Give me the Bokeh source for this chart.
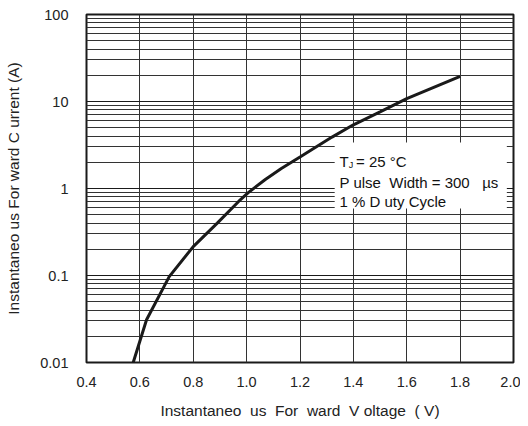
from bokeh.plotting import figure
from bokeh.models import FixedTicker, BoxAnnotation, Label, NumeralTickFormatter
from bokeh.embed import file_html
from bokeh.resources import INLINE

# Data
voltage = [0.575, 0.625, 0.71, 0.80, 0.89, 0.97, 1.005, 1.07, 1.13, 1.20, 1.32, 1.40, 1.50, 1.60, 1.80]
current = [0.01, 0.031, 0.097, 0.215, 0.40, 0.71, 0.89, 1.27, 1.70, 2.3, 3.9, 5.4, 7.6, 10.8, 19.5]

x_ticks = [0.4, 0.6, 0.8, 1.0, 1.2, 1.4, 1.6, 1.8, 2.0]
y_ticks = [0.01, 0.1, 1, 10, 100]
y_tick_labels = ["0.01", "0.1", "1", "10", "100"]
y_minor = [m * d for d in [0.01, 0.1, 1, 10] for m in range(2, 10)]

FONT = "Liberation Sans"
NB = "\u00a0"

p = figure(frame_width=427, frame_height=348,
           min_border_left=86, min_border_right=7, min_border_top=14, min_border_bottom=55,
           x_range=(0.4, 2.0), y_range=(0.01, 100), y_axis_type="log",
           output_backend="svg", toolbar_location=None)

p.background_fill_color = "white"
p.border_fill_color = "white"
p.outline_line_color = "#1a1a1a"
p.outline_line_width = 2

p.xaxis.ticker = FixedTicker(ticks=x_ticks)
p.xaxis.formatter = NumeralTickFormatter(format="0.0")
p.yaxis.ticker = FixedTicker(ticks=y_ticks, minor_ticks=y_minor)
p.yaxis.major_label_overrides = {t: l for t, l in zip(y_ticks, y_tick_labels)}

for ax in (p.xaxis, p.yaxis):
    ax.axis_line_color = None
    ax.major_tick_line_color = None
    ax.minor_tick_line_color = None
    ax.major_tick_out = 0
    ax.major_tick_in = 0
    ax.major_label_text_font = FONT
    ax.major_label_text_font_size = "14.5px"
    ax.major_label_text_color = "#222222"
    ax.axis_label_text_font = FONT
    ax.axis_label_text_font_size = "15.5px"
    ax.axis_label_text_font_style = "normal"
    ax.axis_label_text_color = "#222222"

p.xaxis.axis_label = ("Instantaneo" + NB + " us" + NB + " For" + NB + " ward" + NB +
                      " V oltage" + NB + " ( V)")
p.yaxis.axis_label = "Instantaneo us For ward C urrent (A)"
p.xaxis.major_label_standoff = 14
p.xaxis.axis_label_standoff = 12
p.yaxis.major_label_standoff = 14
p.yaxis.axis_label_standoff = 15

p.xgrid.grid_line_color = "#333333"
p.xgrid.grid_line_width = 1
p.ygrid.grid_line_color = "#1a1a1a"
p.ygrid.grid_line_width = 1
p.ygrid.minor_grid_line_color = "#333333"
p.ygrid.minor_grid_line_width = 1

p.line(voltage, current, line_color="#1a1a1a", line_width=3)

box = BoxAnnotation(left=1.33, right=1.975, bottom=0.59, top=3.38,
                    fill_color="white", fill_alpha=1.0, line_color=None)
p.add_layout(box)

lab_kw = dict(text_font=FONT, text_font_size="15px", text_color="#111111",
              text_baseline="alphabetic")
p.add_layout(Label(x=1.348, y=2.04, text="T", **lab_kw))
p.add_layout(Label(x=1.383, y=1.86, text="J", text_font=FONT, text_font_size="9px",
                   text_color="#111111", text_baseline="alphabetic"))
p.add_layout(Label(x=1.41, y=2.04, text="= 25 °C", **lab_kw))
p.add_layout(Label(x=1.348, y=1.172, text="P ulse" + NB + " Width = 300" + NB + NB + " µs", **lab_kw))
p.add_layout(Label(x=1.348, y=0.709, text="1 % D uty Cycle", **lab_kw))

open("out.html", "w").write(file_html(p, INLINE))
